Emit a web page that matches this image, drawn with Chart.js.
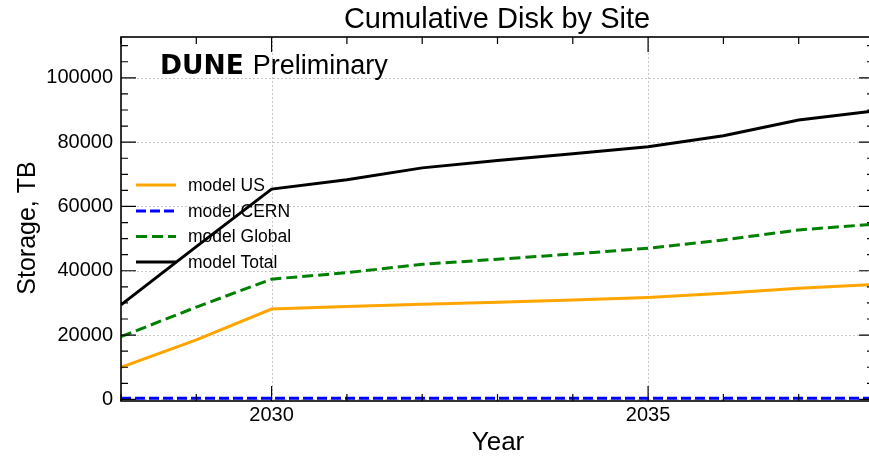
<!DOCTYPE html>
<html>
<head>
<meta charset="utf-8">
<title>Cumulative Disk by Site</title>
<script src="https://cdn.jsdelivr.net/npm/chart.js@4.4.1/dist/chart.umd.min.js"></script>
<style>
  html, body { margin: 0; padding: 0; background: #fff; overflow: hidden; }
  #wrap { width: 900px; height: 456px; }
</style>
</head>
<body>
<div id="wrap"><canvas id="disk" width="900" height="456"></canvas></div>
<script>
// storage model per site, TB
const years = [2028, 2029, 2030, 2031, 2032, 2033, 2034, 2035, 2036, 2037, 2038];
const usDisk = [10000, 18500, 28100, 28900, 29600, 30200, 30900, 31700, 33000, 34600, 35700];
const cernDisk = [350, 350, 350, 350, 350, 350, 350, 350, 350, 350, 350];
const globalDisk = [19500, 28700, 37400, 39400, 42000, 43600, 45200, 47000, 49600, 52700, 54500];
const totalDisk = [29400, 47500, 65400, 68300, 72000, 74300, 76400, 78600, 82000, 86900, 89700];

const yTicks = [0, 20000, 40000, 60000, 80000, 100000];
const xTicks = [2030, 2035];

const FONT = "'Liberation Sans', Arial, Helvetica, sans-serif";
Chart.defaults.font.family = FONT;
Chart.defaults.color = '#000';

const pts = vals => years.map((y, i) => ({ x: y, y: vals[i] }));

// grid lines, inward ticks on all four sides, frame
const axesPlugin = {
  id: 'axesStyle',
  beforeDatasetsDraw(chart) {
    const { ctx, chartArea: a, scales: { x, y } } = chart;
    ctx.save();
    ctx.strokeStyle = '#c8c8c8';
    ctx.lineWidth = 1;
    ctx.setLineDash([2, 2]);
    yTicks.forEach(v => {
      const py = Math.round(y.getPixelForValue(v)) + 0.5;
      ctx.beginPath(); ctx.moveTo(a.left, py); ctx.lineTo(a.right, py); ctx.stroke();
    });
    xTicks.forEach(v => {
      const px = Math.round(x.getPixelForValue(v)) + 0.5;
      ctx.beginPath(); ctx.moveTo(px, a.top); ctx.lineTo(px, a.bottom); ctx.stroke();
    });
    ctx.restore();
  },
  afterDatasetsDraw(chart) {
    const { ctx, chartArea: a, scales: { x, y } } = chart;
    ctx.save();
    ctx.strokeStyle = '#000';
    ctx.lineWidth = 1.2;
    const major = 15, minor = 7;
    for (let v = 0; v <= 110000; v += 5000) {
      const py = y.getPixelForValue(v);
      const len = v % 20000 === 0 ? major : minor;
      ctx.beginPath();
      ctx.moveTo(a.left, py); ctx.lineTo(a.left + len, py);
      ctx.moveTo(a.right, py); ctx.lineTo(a.right - len, py);
      ctx.stroke();
    }
    years.forEach(v => {
      const px = x.getPixelForValue(v);
      const len = xTicks.includes(v) ? major : minor;
      ctx.beginPath();
      ctx.moveTo(px, a.bottom); ctx.lineTo(px, a.bottom - len);
      ctx.moveTo(px, a.top); ctx.lineTo(px, a.top + len);
      ctx.stroke();
    });
    ctx.lineWidth = 1.6;
    ctx.strokeRect(a.left, a.top, a.right - a.left, a.bottom - a.top);
    ctx.restore();
  },
  afterDraw(chart) {
    const { ctx, chartArea: a } = chart;
    ctx.save();
    ctx.fillStyle = '#000';

    // title
    ctx.font = '29px ' + FONT;
    ctx.textAlign = 'center';
    ctx.textBaseline = 'alphabetic';
    ctx.fillText('Cumulative Disk by Site', 497, 28);

    // experiment label
    ctx.textAlign = 'left';
    ctx.font = "bold 26.5px 'DejaVu Sans', sans-serif";
    ctx.fillText('DUNE', 160, 74);
    const w = ctx.measureText('DUNE').width;
    ctx.font = '27px ' + FONT;
    ctx.fillText('Preliminary', 160 + w + 9, 74);

    // axis titles
    ctx.font = '26px ' + FONT;
    ctx.textAlign = 'center';
    ctx.fillText('Year', 498, 450);
    ctx.font = '25px ' + FONT;
    ctx.translate(35, 228);
    ctx.rotate(-Math.PI / 2);
    ctx.fillText('Storage, TB', 0, 0);
    ctx.restore();

    // legend
    ctx.save();
    const rows = [185, 211, 236.5, 262];
    chart.data.datasets.forEach((ds, i) => {
      const ry = rows[i];
      ctx.strokeStyle = ds.borderColor;
      ctx.lineWidth = ds.borderWidth;
      ctx.setLineDash(ds.borderDash || []);
      ctx.beginPath(); ctx.moveTo(136, ry); ctx.lineTo(176, ry); ctx.stroke();
      ctx.setLineDash([]);
      ctx.fillStyle = '#000';
      ctx.font = '17.5px ' + FONT;
      ctx.textAlign = 'left';
      ctx.textBaseline = 'middle';
      ctx.fillText(ds.label, 188, ry + 1);
    });
    ctx.restore();
  }
};

new Chart(document.getElementById('disk'), {
  type: 'line',
  data: {
    datasets: [
      { label: 'model US', data: pts(usDisk), borderColor: '#ffa500', borderWidth: 3 },
      { label: 'model CERN', data: pts(cernDisk), borderColor: '#0000ff', borderWidth: 3, borderDash: [10, 4] },
      { label: 'model Global', data: pts(globalDisk), borderColor: '#008000', borderWidth: 3, borderDash: [11, 5] },
      { label: 'model Total', data: pts(totalDisk), borderColor: '#000000', borderWidth: 3 }
    ]
  },
  options: {
    responsive: false,
    animation: false,
    devicePixelRatio: 1,
    layout: { padding: { top: 37, right: 26, left: 0, bottom: 0 } },
    elements: { point: { radius: 0 }, line: { tension: 0, fill: false } },
    plugins: { legend: { display: false }, tooltip: { enabled: false } },
    scales: {
      x: {
        type: 'linear',
        min: 2028,
        max: 2038,
        grid: { display: false },
        border: { display: false },
        afterBuildTicks: s => { s.ticks = xTicks.map(v => ({ value: v })); },
        afterFit: s => { s.height = 55; },
        ticks: {
          maxRotation: 0,
          autoSkip: false,
          padding: -6,
          font: { size: 20 },
          callback: v => String(v)
        }
      },
      y: {
        min: -500,
        max: 112700,
        grid: { display: false },
        border: { display: false },
        afterBuildTicks: s => { s.ticks = yTicks.map(v => ({ value: v })); },
        afterFit: s => { s.width = 121; },
        ticks: {
          padding: 0,
          font: { size: 20 },
          callback: v => String(v)
        }
      }
    }
  },
  plugins: [axesPlugin]
});
</script>
</body>
</html>
